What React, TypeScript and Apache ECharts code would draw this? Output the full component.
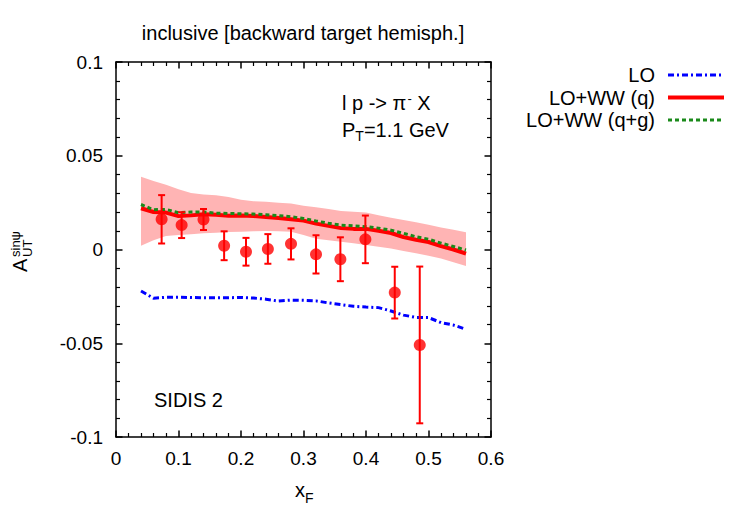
import React, { useEffect, useRef } from "react";
import * as echarts from "echarts";

// Theory curves sampled on a common x_F grid
const curveX = [
  0.04, 0.06, 0.08, 0.1, 0.12, 0.14, 0.16, 0.18, 0.2, 0.22, 0.24, 0.26, 0.28,
  0.3, 0.32, 0.34, 0.36, 0.38, 0.4, 0.42, 0.44, 0.46, 0.48, 0.5, 0.52, 0.54, 0.56,
];
const loCurve = [
  -0.0221, -0.026, -0.0255, -0.0254, -0.0256, -0.0257, -0.0257, -0.0257, -0.0256,
  -0.0259, -0.0265, -0.0275, -0.027, -0.0271, -0.0274, -0.0285, -0.0294, -0.0303,
  -0.0307, -0.031, -0.0328, -0.035, -0.0362, -0.0363, -0.039, -0.0403, -0.0426,
];
const wwQCurve = [
  0.022, 0.02, 0.0197, 0.0178, 0.0182, 0.0188, 0.0185, 0.018, 0.0181, 0.0179,
  0.0173, 0.0168, 0.0161, 0.0154, 0.0138, 0.0126, 0.0114, 0.011, 0.011, 0.01,
  0.0088, 0.0066, 0.0052, 0.004, 0.0018, 0.0, -0.0022,
];
const wwQGCurve = [
  0.024, 0.0212, 0.0214, 0.0196, 0.02, 0.02, 0.0194, 0.0192, 0.0191, 0.0189,
  0.0185, 0.0181, 0.0175, 0.0165, 0.0152, 0.014, 0.013, 0.0126, 0.0122, 0.0114,
  0.0103, 0.0086, 0.0068, 0.0055, 0.0034, 0.0016, -0.0003,
];
const bandLower = [
  0.002, 0.005, 0.0072, 0.0077, 0.0082, 0.0087, 0.009, 0.0093, 0.0095, 0.0097,
  0.0099, 0.0097, 0.0095, 0.0078, 0.0058, 0.005, 0.0042, 0.0033, 0.0024, 0.0015,
  0.0005, -0.0008, -0.002, -0.0033, -0.0048, -0.0068, -0.0088,
];
const bandUpper = [
  0.0388, 0.0365, 0.0345, 0.0322, 0.0302, 0.0294, 0.029, 0.028, 0.0265, 0.0258,
  0.0255, 0.025, 0.0245, 0.0234, 0.0226, 0.0216, 0.0206, 0.0202, 0.0198, 0.0183,
  0.017, 0.0158, 0.0145, 0.0132, 0.0117, 0.0105, 0.0092,
];

// SIDIS 2 measurements
const dataX = [0.073, 0.105, 0.14, 0.173, 0.208, 0.243, 0.28, 0.32, 0.359, 0.399, 0.446, 0.486];
const dataY = [0.0161, 0.013, 0.016, 0.002, -0.0012, 0.0003, 0.003, -0.0026, -0.0052, 0.0054, -0.023, -0.0509];
const dataErr = [0.0129, 0.0069, 0.0056, 0.0077, 0.0074, 0.0079, 0.0083, 0.0102, 0.0117, 0.0127, 0.0138, 0.0418];

const legendNames = ["LO", "LO+WW (q)", "LO+WW (q+g)"];

// Axis ranges and tick spacing
const X_MIN = 0;
const X_MAX = 0.6;
const X_STEP = 0.1;
const Y_MIN = -0.1;
const Y_MAX = 0.1;
const Y_STEP = 0.05;

const FONT = "'Liberation Sans', Arial, Helvetica, sans-serif";
const BLUE = "#0000ff";
const RED = "#ff0000";
const GREEN = "#1a8a1a";
const BAND = "#ffb4b4";

const GRID = { left: 116, top: 62, width: 375, height: 375 };

// Black frame with inward major and minor ticks on every side
function axisCommon() {
  return {
    axisLine: { show: true, onZero: false, lineStyle: { color: "#000", width: 1.5 } },
    axisTick: { show: true, inside: true, length: 6.5, lineStyle: { color: "#000", width: 1.5 } },
    minorTick: { show: true, splitNumber: 5, length: 4, lineStyle: { color: "#000", width: 1.2 } },
    splitLine: { show: false },
    minorSplitLine: { show: false },
  };
}

export default function App() {
  const ref = useRef<HTMLDivElement>(null);

  useEffect(() => {
    if (!ref.current) return;
    const chart = echarts.init(ref.current, null, { renderer: "svg" });

    const lineData = (ys: number[]) => curveX.map((x, i) => [x, ys[i]]);

    const legendY = [75, 97.5, 120];
    const legendStyles = [
      { stroke: BLUE, lineWidth: 3, lineDash: [6, 3, 2, 3] },
      { stroke: RED, lineWidth: 4 },
      { stroke: GREEN, lineWidth: 3, lineDash: [4, 3] },
    ];

    const option: any = {
      animation: false,
      backgroundColor: "#ffffff",
      grid: { ...GRID, containLabel: false },
      xAxis: [
        {
          type: "value",
          min: X_MIN,
          max: X_MAX,
          interval: X_STEP,
          position: "bottom",
          ...axisCommon(),
          axisLabel: { color: "#000", fontSize: 19, fontFamily: FONT, margin: 12 },
        },
        {
          type: "value",
          min: X_MIN,
          max: X_MAX,
          interval: X_STEP,
          position: "top",
          ...axisCommon(),
          axisLabel: { show: false },
        },
      ],
      yAxis: [
        {
          type: "value",
          min: Y_MIN,
          max: Y_MAX,
          interval: Y_STEP,
          position: "left",
          ...axisCommon(),
          axisLabel: { color: "#000", fontSize: 19, fontFamily: FONT, margin: 13 },
        },
        {
          type: "value",
          min: Y_MIN,
          max: Y_MAX,
          interval: Y_STEP,
          position: "right",
          ...axisCommon(),
          axisLabel: { show: false },
        },
      ],
      series: [
        {
          name: "band",
          type: "custom",
          data: curveX.map((x, i) => [x, bandLower[i], bandUpper[i]]),
          encode: { x: 0, y: [1, 2] },
          z: 1,
          silent: true,
          renderItem: (params: any, api: any) => {
            if (params.dataIndex !== 0) return null;
            const pts: number[][] = [];
            curveX.forEach((x, i) => pts.push(api.coord([x, bandUpper[i]])));
            for (let i = curveX.length - 1; i >= 0; i--) pts.push(api.coord([curveX[i], bandLower[i]]));
            return { type: "polygon", shape: { points: pts }, style: { fill: BAND, stroke: "none" } };
          },
        },
        {
          name: legendNames[0],
          type: "line",
          data: lineData(loCurve),
          showSymbol: false,
          z: 3,
          lineStyle: { color: BLUE, width: 3, type: [6, 3, 2, 3] },
        },
        {
          name: legendNames[1],
          type: "line",
          data: lineData(wwQCurve),
          showSymbol: false,
          z: 3,
          lineStyle: { color: RED, width: 4 },
        },
        {
          name: legendNames[2],
          type: "line",
          data: lineData(wwQGCurve),
          showSymbol: false,
          z: 4,
          lineStyle: { color: GREEN, width: 3, type: [4, 3] },
        },
        {
          name: "errors",
          type: "custom",
          data: dataX.map((x, i) => [x, dataY[i], dataErr[i]]),
          encode: { x: 0, y: 1 },
          z: 5,
          renderItem: (_params: any, api: any) => {
            const x = api.value(0);
            const y = api.value(1);
            const e = api.value(2);
            const top = api.coord([x, y + e]);
            const bot = api.coord([x, y - e]);
            const cap = 3.5;
            const st = { stroke: RED, lineWidth: 2 };
            return {
              type: "group",
              children: [
                { type: "line", shape: { x1: top[0], y1: top[1], x2: bot[0], y2: bot[1] }, style: st },
                { type: "line", shape: { x1: top[0] - cap, y1: top[1], x2: top[0] + cap, y2: top[1] }, style: st },
                { type: "line", shape: { x1: bot[0] - cap, y1: bot[1], x2: bot[0] + cap, y2: bot[1] }, style: st },
              ],
            };
          },
        },
        {
          name: "SIDIS 2",
          type: "scatter",
          data: dataX.map((x, i) => [x, dataY[i]]),
          symbol: "circle",
          symbolSize: 12,
          z: 6,
          itemStyle: { color: RED },
        },
      ],
      graphic: [
        {
          type: "text",
          x: 303,
          y: 33,
          style: {
            text: "inclusive [backward target hemisph.]",
            fill: "#000",
            font: `20px ${FONT}`,
            textAlign: "center",
            textVerticalAlign: "middle",
          },
        },
        {
          type: "text",
          x: 342,
          y: 103,
          style: {
            text: "l p -> π{sup|-} X",
            fill: "#000",
            font: `20px ${FONT}`,
            textVerticalAlign: "middle",
            rich: { sup: { fontSize: 13, fontFamily: FONT, verticalAlign: "top", padding: [0, 0, 10, 1] } },
          },
        },
        {
          type: "text",
          x: 342,
          y: 130,
          style: {
            text: "P{sub|T}=1.1 GeV",
            fill: "#000",
            font: `20px ${FONT}`,
            textVerticalAlign: "middle",
            rich: { sub: { fontSize: 14, fontFamily: FONT, padding: [12, 0, 0, 0] } },
          },
        },
        {
          type: "text",
          x: 154,
          y: 400,
          style: { text: "SIDIS 2", fill: "#000", font: `20px ${FONT}`, textVerticalAlign: "middle" },
        },
        {
          type: "group",
          x: 303,
          y: 490,
          children: [
            { type: "text", x: -8, y: 0, style: { text: "x", fill: "#000", font: `20px ${FONT}`, textVerticalAlign: "middle" } },
            { type: "text", x: 2, y: 8, style: { text: "F", fill: "#000", font: `14px ${FONT}`, textVerticalAlign: "middle" } },
          ],
        },
        {
          type: "group",
          x: 20,
          y: 272,
          rotation: Math.PI / 2,
          children: [
            { type: "text", x: 0, y: 0, style: { text: "A", fill: "#000", font: `20px ${FONT}`, textVerticalAlign: "middle" } },
            { type: "text", x: 15, y: 7, style: { text: "UT", fill: "#000", font: `13px ${FONT}`, textVerticalAlign: "middle" } },
            { type: "text", x: 15, y: -5, style: { text: "sinψ", fill: "#000", font: `13px ${FONT}`, textVerticalAlign: "middle" } },
          ],
        },
        ...legendNames.map((name, i) => ({
          type: "text",
          x: 655,
          y: legendY[i],
          style: {
            text: name,
            fill: "#000",
            font: `20px ${FONT}`,
            textAlign: "right",
            textVerticalAlign: "middle",
          },
        })),
        ...legendNames.map((_n, i) => ({
          type: "line",
          shape: { x1: 668, y1: legendY[i], x2: 724, y2: legendY[i] },
          style: legendStyles[i],
        })),
      ],
    };

    chart.setOption(option);
    return () => chart.dispose();
  }, []);

  return (
    <div
      ref={ref}
      style={{ position: "fixed", left: 0, top: 0, width: 750, height: 525, background: "#fff" }}
    />
  );
}
